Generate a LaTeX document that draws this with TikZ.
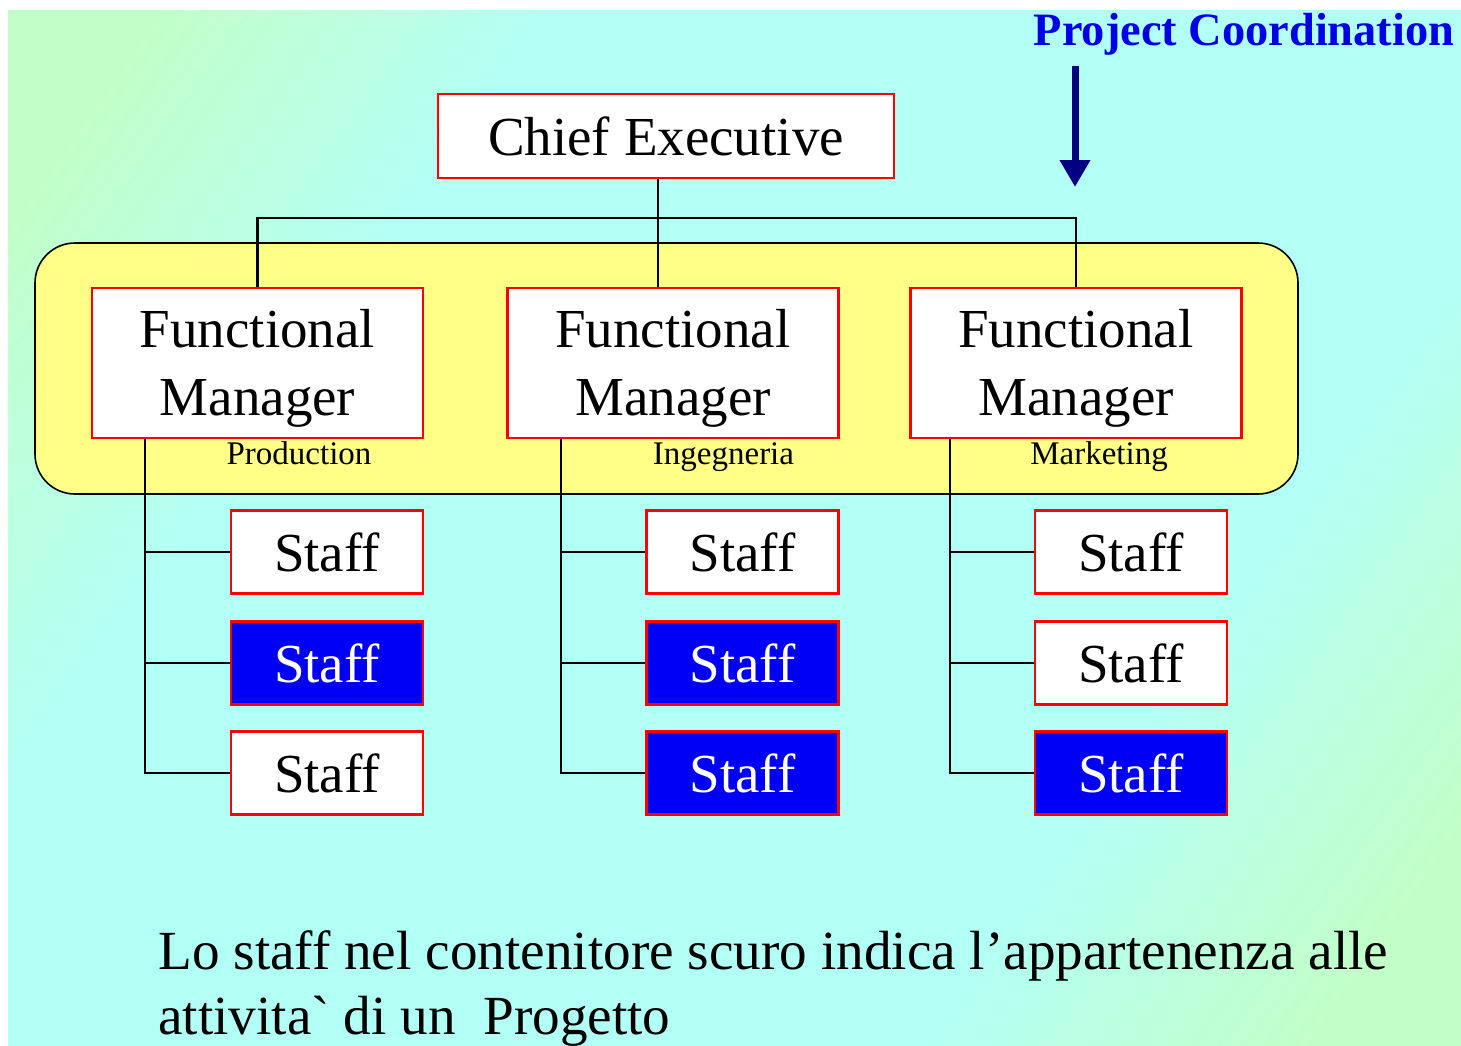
\documentclass[tikz,border=0pt]{standalone}
\usepackage{fontspec}
\setmainfont{Liberation Serif}
\usetikzlibrary{arrows.meta}
\definecolor{bgcyan}{RGB}{178,255,246}
\definecolor{bggreen}{RGB}{194,255,200}
\definecolor{boxred}{RGB}{255,0,0}
\definecolor{staffblue}{RGB}{0,0,245}
\definecolor{contyellow}{RGB}{255,255,136}
\definecolor{pcblue}{RGB}{0,0,230}
\definecolor{navyarrow}{RGB}{0,0,128}
\pgfdeclarehorizontalshading{bgsh}{100bp}{color(0bp)=(bggreen); color(20bp)=(bggreen); color(33bp)=(bgcyan); color(67bp)=(bgcyan); color(80bp)=(bggreen); color(100bp)=(bggreen)}
\newcommand{\fmtext}{\rule{0pt}{24pt}Functional\\Manager}
\begin{document}
\begin{tikzpicture}[x=0.5pt,y=-0.5pt,
  redbox/.style={draw=boxred, line width=1.2pt, fill=white, inner sep=0pt, text=black},
  chiefbox/.style={redbox, minimum width=228pt, minimum height=42pt, font=\fontsize{27.5pt}{34pt}\selectfont},
  fmbox/.style={redbox, minimum width=165.5pt, minimum height=75pt, align=center, font=\fontsize{27.5pt}{34pt}\selectfont},
  staffbox/.style={redbox, minimum width=96pt, minimum height=41.5pt, font=\fontsize{27.5pt}{34pt}\selectfont},
  darkstaff/.style={staffbox, fill=staffblue, text=white},
  sublabel/.style={anchor=base, inner sep=0pt, font=\fontsize{16.5pt}{20pt}\selectfont},
  conn/.style={draw=black, line width=1.2pt},
]
\useasboundingbox (0,0) rectangle (1461,1045);
\shade[shading=bgsh, shading angle=-35] (8,10) rectangle (1461,1045);

% container
\node[draw=black, line width=0.8pt, fill=contyellow, rounded corners=20pt,
  minimum width=631.5pt, minimum height=125.5pt, inner sep=0pt] (cont) at (666.5,368.5) {};

% boxes
\node[chiefbox] (chief) at (666,136) {Chief Executive};
\node[fmbox] (fm1) at (257.5,363) {\fmtext};
\node[fmbox] (fm2) at (673,363) {\fmtext};
\node[fmbox] (fm3) at (1076,363) {\fmtext};

\node[sublabel] (lab1) at (299,464) {Production};
\node[sublabel] (lab2) at (723.5,464) {Ingegneria};
\node[sublabel] (lab3) at (1099,464) {Marketing};

\node[staffbox]  (s11) at (327,552) {Staff};
\node[darkstaff] (s12) at (327,663) {Staff};
\node[staffbox]  (s13) at (327,773) {Staff};
\node[staffbox]  (s21) at (742.5,552) {Staff};
\node[darkstaff] (s22) at (742.5,663) {Staff};
\node[darkstaff] (s23) at (742.5,773) {Staff};
\node[staffbox]  (s31) at (1131,552) {Staff};
\node[staffbox]  (s32) at (1131,663) {Staff};
\node[darkstaff] (s33) at (1131,773) {Staff};

% connectors from chief
\coordinate (j) at (658,218);
\draw[conn] (j |- chief.south) -- (j |- fm2.north);
\draw[conn] (fm1.north) |- (j) -| (fm3.north);

% trunks
\coordinate (t1) at (145,438);
\coordinate (t2) at (561,438);
\coordinate (t3) at (950,438);
\draw[conn] (t1 |- fm1.south) |- (s13.west);
\draw[conn] (s11.west) -- (s11.west -| t1);
\draw[conn] (s12.west) -- (s12.west -| t1);
\draw[conn] (t2 |- fm2.south) |- (s23.west);
\draw[conn] (s21.west) -- (s21.west -| t2);
\draw[conn] (s22.west) -- (s22.west -| t2);
\draw[conn] (t3 |- fm3.south) |- (s33.west);
\draw[conn] (s31.west) -- (s31.west -| t3);
\draw[conn] (s32.west) -- (s32.west -| t3);

% project coordination
\node[anchor=base, text=pcblue, inner sep=0pt, font=\bfseries\fontsize{23.2pt}{27pt}\selectfont] (pc) at (1244,45) {Project Coordination};
\coordinate (atop) at (1075,66);
\coordinate (abot) at (1075,187);
\draw[navyarrow, line width=3.5pt, -{Triangle[width=14.5pt,length=13.5pt]}] (atop) -- (abot);

% note
\node[anchor=north west, align=left, inner sep=0pt, font=\fontsize{27.6pt}{32.5pt}\selectfont] (note) at (158,930)
  {Lo staff nel contenitore scuro indica l’appartenenza alle\\attivita\textasciigrave{} di un~~Progetto};
\end{tikzpicture}
\end{document}
